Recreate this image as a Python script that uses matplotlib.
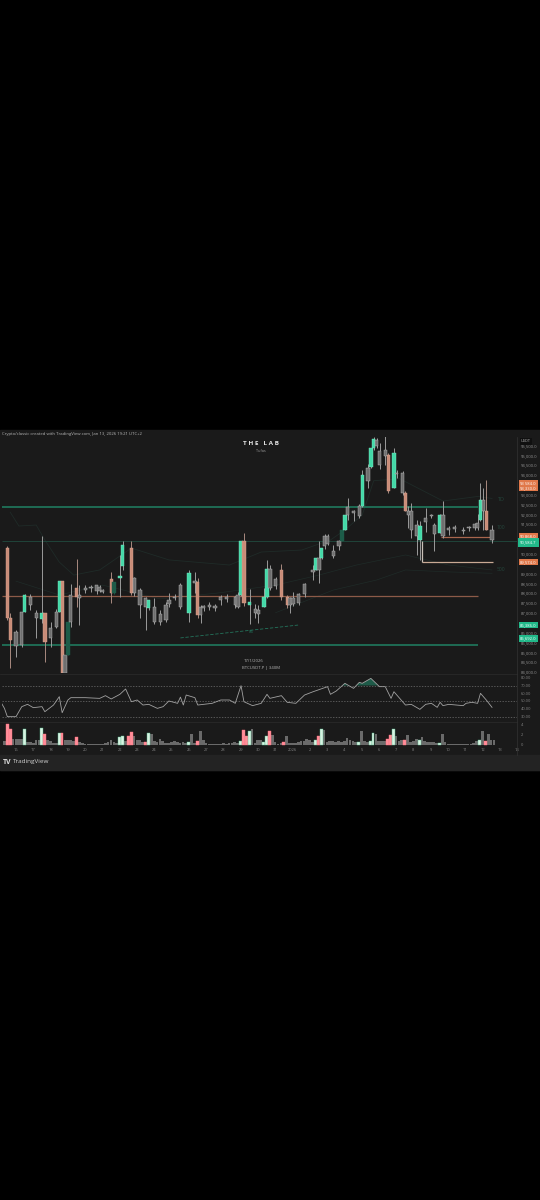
import matplotlib
matplotlib.use("Agg")
import matplotlib.pyplot as plt
from matplotlib.patches import Rectangle

plt.rcParams['font.family'] = ['Open Sans', 'DejaVu Sans']

# ---- candles (4h bars, bar 0 = 16 Dec) - only the ones you can actually see
bars = [-3, -2, 0, 2, 3, 5, 7, 9, 10, 12,
        14, 15, 16, 17, 18, 19, 21, 22, 24, 26,
        28, 29, 30, 33, 34, 36, 37, 40, 41, 43,
        45, 46, 48, 50, 52, 53, 55, 57, 60, 62,
        63, 64, 65, 67, 69, 71, 73, 76, 77, 78,
        79, 81, 83, 84, 86, 87, 88, 90, 92, 94,
        95, 96, 98, 100, 103, 104, 105, 106, 107, 108,
        110, 112, 113, 114, 115, 117, 119, 120, 122, 123,
        124, 125, 126, 128, 129, 131, 132, 134, 135, 136,
        137, 139, 140, 142, 144, 145, 147, 148, 150, 152,
        155, 157, 159, 160, 161, 162, 163, 165]
opens = [90284, 86731, 86020, 85360, 87036, 87797, 86731, 86680, 86985, 85716,
         86274, 87036, 88609, 83939, 84853, 86528, 88254, 87746, 88152, 88254,
         88102, 88305, 88051, 88711, 88000, 88761, 89371, 90284, 88000, 88152,
         87746, 87239, 87289, 86528, 86629, 87442, 87746, 87289, 86985, 88508,
         88558, 86883, 87239, 87289, 87340, 87645, 87695, 87391, 87289, 87898,
         90640, 87391, 86985, 86934, 87289, 87797, 89218, 88355, 89167, 87797,
         87391, 87442, 87492, 87949, 89066, 89167, 89777, 89777, 90386, 90893,
         90132, 90386, 90640, 91198, 91959, 92061, 91909, 92416, 93685, 94396,
         95360, 95462, 95208, 94954, 95005, 93330, 94040, 94091, 93076, 92162,
         92162, 91452, 90690, 91604, 91909, 90995, 91046, 91959, 91198, 91248,
         91198, 91299, 91299, 91299, 91705, 92721, 92162, 91198]
highs = [90386, 86985, 86122, 87036, 87949, 87949, 87137, 90893, 86985, 86528,
         87188, 88609, 88609, 84853, 86528, 88457, 89726, 88406, 88406, 88406,
         88406, 88406, 88203, 89066, 88558, 89929, 90640, 90640, 88812, 88254,
         87797, 87645, 87746, 87137, 87543, 88000, 87949, 88508, 89167, 89066,
         88761, 87391, 87391, 87543, 87442, 87898, 87949, 87848, 88051, 90640,
         91046, 88203, 87442, 87391, 88254, 89675, 89421, 88812, 89472, 87898,
         87797, 88051, 88000, 88508, 89421, 89777, 90640, 90284, 90995, 90995,
         90436, 90690, 91198, 91959, 92822, 92213, 92518, 94244, 94548, 95360,
         95919, 95868, 95614, 95970, 95106, 95360, 94244, 94193, 93178, 92416,
         92569, 91705, 91655, 92315, 92010, 91553, 92010, 92670, 91401, 91452,
         91350, 91401, 91553, 92010, 93584, 93330, 93736, 91452]
lows = [86629, 84193, 84751, 85259, 87036, 87137, 85716, 86477, 84498, 85259,
        86223, 87036, 83700, 83800, 84853, 86274, 87289, 86376, 88000, 88051,
        87949, 88051, 88000, 87492, 87949, 87797, 89167, 87898, 87848, 86731,
        86122, 87137, 86426, 86376, 86528, 87289, 87645, 87188, 86528, 88000,
        86731, 86477, 87086, 87137, 87086, 87391, 87543, 87239, 87239, 87848,
        87340, 86426, 86731, 86477, 87289, 87746, 88152, 88203, 87645, 87239,
        86985, 87340, 87391, 87797, 88660, 89167, 88508, 89726, 90234, 90436,
        89777, 90183, 90640, 91198, 91705, 91655, 91807, 92365, 93330, 94345,
        95259, 95360, 94294, 94497, 93076, 93330, 93838, 92974, 92162, 91299,
        90792, 89929, 89675, 91096, 91806, 90132, 91046, 90792, 90944, 91096,
        90995, 91147, 91198, 91198, 91655, 91198, 91198, 90538]
closes = [86731, 85614, 85309, 87036, 87898, 87391, 86985, 86985, 85513, 86223,
          87036, 88609, 83939, 84853, 86528, 87898, 87797, 87898, 88254, 88305,
          88406, 88102, 88152, 88000, 88558, 88863, 90436, 88000, 88761, 87391,
          87289, 87645, 86528, 86934, 87391, 87645, 87797, 88406, 89015, 88609,
          86883, 87289, 87340, 87391, 87239, 87797, 87797, 87797, 87898, 90640,
          87492, 87543, 87188, 87137, 87797, 89218, 88254, 88711, 87797, 87391,
          87746, 87746, 87949, 88457, 89167, 89777, 89167, 90284, 90893, 90487,
          89878, 90640, 91198, 91959, 92365, 92162, 92416, 93990, 94345, 95360,
          95817, 95767, 94497, 95259, 93178, 95106, 94091, 93076, 92162, 91959,
          91198, 90893, 91401, 91807, 91960, 91452, 91959, 90893, 91299, 91350,
          91147, 91350, 91502, 91553, 92721, 92162, 91198, 90690]
kinds = list("rrnngnngrn" "ngrndnrnnn" "nnnrdggrnn" "ngnnnnnngn" "rnnnnnnnng"
             "rgnnggnnrr" "nnnnngngnn" "nndgnnngng" "gnnnrgnnrn" "nngnnngnnn"
             "nnnngnrn")

# faint band lines on the price pane
band_up_bars = [-2, 1, 7, 10, 15, 20, 29, 40, 53, 74, 85, 99, 109, 114, 120, 124, 133, 148, 160, 165]
band_up_vals = [92100, 91400, 91450, 90690, 89570, 88910, 89170, 90280, 89680, 89420,
                90080, 90180, 90690, 91200, 91960, 93700, 93800, 92670, 92900, 92800]
band_mid_bars = [0, 15, 30, 50, 70, 90, 105, 118, 135, 150, 165]
band_mid_vals = [88600, 87900, 88400, 87700, 88000, 88400, 88910, 89420, 89930, 89420, 89170]
band_low_bars = [90, 110, 125, 135, 150, 165]
band_low_vals = [87000, 88150, 88660, 89170, 89070, 89000]

# levels: price, first bar, last bar
level_green_top = 92365
level_green_mid = 90665
level_red = 87873
level_green_low = 85370
level_short = 90868
level_box = 89573
level_box_top = 90640
level_end_bar = 160.1
level_short_start = 147.3
level_box_start = 140.7
level_box_end = 165.3
trend_bars = [57, 98]
trend_vals = [85720, 86376]

price_ticks = [95500, 95000, 94500, 94000, 93000, 92500, 92000, 91500, 90000, 89000, 88500, 88000,
               87500, 87000, 86500, 86000, 85500, 85000, 84500, 84000]
tag_vals = [93584, 93330, 90868, 89574, 86386, 85692]
tag_cols = ['#e0784a', '#e0784a', '#e0784a', '#e0784a', '#22b98a', '#22b98a']

# rsi
rsi_bars = [-5, -4, -3, 0, 2, 4, 6, 9, 10, 13, 15, 16, 18, 19, 24, 29, 31, 33, 36, 38, 40, 42, 44, 46, 49,
            51, 53, 56, 57, 58, 59, 62, 63, 68, 71, 74, 76, 78, 79, 82, 85, 87, 88, 92, 94, 97, 100,
            103, 108, 109, 111, 114, 117, 119, 120, 123, 126, 128, 130, 131, 133, 135, 137, 140, 142,
            144, 146, 147, 148, 150, 155, 156, 158, 160, 161, 163, 165]
rsi_vals = [47, 40.5, 29.8, 29.8, 42.7, 45.7, 41.4, 42.7, 36.2, 44.8, 55.6, 34.9, 51.3, 54.3, 54.3, 53.4,
            56.9, 52.6, 58.6, 65.5, 49.1, 51.3, 44.8, 45.7, 40.5,
            42.7, 50, 47, 55, 44.8, 57.7, 54.3, 44.8, 47, 51.3, 51.3, 47, 69.8, 49.1, 44, 47, 58.6, 53.4,
            56.9, 48.3, 47, 57.7,
            62, 68.5, 58.6, 62.9, 72.8, 66.3, 74.1, 72.8, 79.2, 68.5, 68.5, 53.4, 62, 53.4, 44.8, 45.7,
            39.2, 45.7,
            47, 41.8, 48.3, 44, 45.7, 44, 47, 48.3, 47, 59.9, 51.3, 41.8]
rsi_ticks = [80, 70, 60, 50, 40, 30]
rsi_dash = [70, 50, 30]

# volume from bar -4 to 165
vol_start = -4
volumes = [0.7, 4.0, 3.1, 1.2, 1.1, 1.1, 1.1, 3.1, 0.6, 0.5,
           0.4, 0.9, 1.0, 3.2, 2.1, 1.0, 0.7, 0.3, 0.3, 2.3,
           2.3, 1.0, 1.0, 0.9, 0.8, 1.6, 0.5, 0.3, 0.2, 0.2,
           0.1, 0.1, 0.1, 0.1, 0.1, 0.3, 0.6, 0.9, 0.5, 0.4,
           1.6, 1.7, 0.7, 1.7, 2.5, 1.7, 0.9, 0.9, 0.5, 0.5,
           2.3, 2.1, 0.8, 0.5, 1.2, 0.7, 0.4, 0.3, 0.5, 0.8,
           0.5, 0.3, 0.5, 0.4, 0.6, 2.1, 0.4, 0.8, 2.6, 0.9,
           0.4, 0.2, 0.2, 0.2, 0.1, 0.2, 0.4, 0.2, 0.3, 0.3,
           0.5, 0.4, 0.8, 2.9, 1.8, 2.7, 3.1, 0.3, 1.0, 0.9,
           0.5, 1.7, 2.7, 1.9, 0.6, 0.2, 0.3, 0.5, 1.7, 0.3,
           0.3, 0.3, 0.5, 0.8, 0.8, 1.1, 1.0, 0.6, 0.9, 1.7,
           3.0, 2.8, 0.5, 0.7, 0.7, 0.6, 0.8, 0.5, 0.8, 1.3,
           0.9, 0.7, 0.5, 0.5, 2.6, 0.8, 0.5, 0.8, 2.3, 2.1,
           0.8, 0.8, 0.8, 1.2, 1.9, 3.1, 1.7, 0.7, 0.9, 1.0,
           1.9, 0.6, 0.7, 1.2, 1.0, 1.6, 0.7, 0.6, 0.6, 0.6,
           0.3, 0.3, 2.1, 0.6, 0.2, 0.1, 0.1, 0.2, 0.1, 0.2,
           0.1, 0.1, 0.1, 0.3, 0.8, 1.0, 2.6, 0.8, 2.1, 1.0, 0.9]
vol_green = [3, 9, 15, 36, 37, 46, 60, 78, 81, 86, 87, 104, 106, 119, 123, 124, 131, 140, 147, 161]
vol_red = [-3, -2, 10, 16, 21, 39, 40, 45, 63, 79, 80, 88, 93, 105, 129, 130, 135, 163]

# axis labels
day_labels = ["16", "17", "18", "19", "20", "21", "22", "23", "24", "25", "26", "27", "28", "29", "30",
              "31", "2026", "2", "3", "4", "5", "6", "7", "8", "9", "10", "11", "12", "13", "14"]
title_text = "Crypto/classic created with TradingView.com, Jan 13, 2026 19:21 UTC+2"

W, H = 540, 1200
BAR_PX = 2.885
BG = '#1a1a1a'


def px_axes(x0, y0, x1, y1):
    a = fig.add_axes([x0 / W, 1 - y1 / H, (x1 - x0) / W, (y1 - y0) / H])
    a.set_facecolor('none')
    for s in a.spines.values():
        s.set_visible(False)
    a.set_xlim((x0 - 16) / BAR_PX, (x1 - 16) / BAR_PX)
    return a


def fx(x):
    return x / W


def fy(y):
    return 1 - y / H


fig = plt.figure(figsize=(W / 100, H / 100), dpi=100, facecolor='black')
fig.patches.append(Rectangle((0, fy(770)), 1, 340 / H, transform=fig.transFigure, color=BG, zorder=-5))
fig.patches.append(Rectangle((0, fy(770)), 1, 15 / H, transform=fig.transFigure, color='#232323', zorder=-4))

# price pane
ax = px_axes(2, 437, 517, 673)
ax.set_ylim(83939, 95919)
ax.yaxis.tick_right()
ax.set_yticks(price_ticks)
ax.set_yticklabels([f"{p:,.1f}" for p in price_ticks])
ax.tick_params(axis='y', length=0, labelsize=3.0, labelcolor='#949494', pad=3)
ax.set_xticks([])

ax.plot(band_up_bars, band_up_vals, color='#1f2b28', lw=0.6)
ax.plot(band_mid_bars, band_mid_vals, color='#1f2b28', lw=0.5)
ax.plot(band_low_bars, band_low_vals, color='#1f2b28', lw=0.5)

ax.hlines(level_green_top, ax.get_xlim()[0], level_end_bar, color='#1f7a5e', lw=1.2)
ax.hlines(level_green_mid, ax.get_xlim()[0], ax.get_xlim()[1], color='#214a3e', lw=0.6)
ax.hlines(level_red, ax.get_xlim()[0], level_end_bar, color='#8c5a48', lw=0.9)
ax.hlines(level_green_low, ax.get_xlim()[0], level_end_bar, color='#1f7a5e', lw=1.2)
ax.hlines(level_short, level_short_start, level_box_end, color='#a8664e', lw=0.9)
ax.hlines(level_box, level_box_start, level_box_end, color='#c9a994', lw=0.9)
ax.vlines(level_box_start, level_box, level_box_top, color='#c9c0b8', lw=0.9)
ax.plot(trend_bars, trend_vals, color='#24745c', lw=0.6, ls=(0, (4, 2)))

body_col = {'g': '#43d9a8', 'r': '#c98c78', 'd': '#1d5c49', 'n': '#6f6f6f'}
edge_col = {'g': '#7fe8c4', 'r': '#d8a593', 'd': '#1d5c49', 'n': '#bdbdbd'}
wick_col = {'g': '#9a9a9a', 'r': '#a98a80', 'd': '#1d5c49', 'n': '#9c9c9c'}
for b, o, h, l, c, k in zip(bars, opens, highs, lows, closes, kinds):
    ax.vlines(b, l, h, color=wick_col[k], lw=0.7, zorder=3)
    ax.bar(b, abs(c - o), bottom=min(o, c), width=1.15, color=body_col[k], edgecolor=edge_col[k], lw=0.3, zorder=4)

ax.text(81.5, 86010, "85", color='#24745c', fontsize=3.2, ha='center', va='center')
ax.text(168.2, 92760, "TD", color='#24453b', fontsize=4, ha='center', va='center')
ax.text(168.2, 91350, "100", color='#24453b', fontsize=3.6, ha='center', va='center')
ax.text(168.2, 89170, "500", color='#24453b', fontsize=3.6, ha='center', va='center')

for val, col in zip(tag_vals, tag_cols):
    fig.text(fx(520), fy(593 - (val - 88000) / 50.76), f"{val:,.1f}", fontsize=3.0, color='white', va='center', ha='left',
             bbox=dict(boxstyle='square,pad=0.3', fc=col, ec='none'), zorder=10)
fig.text(fx(520), fy(542), "90,584.7", fontsize=3.0, color='white', va='center', ha='left',
         bbox=dict(boxstyle='square,pad=0.6', fc='#22b98a', ec='none'), zorder=10)
fig.text(fx(521), fy(441.5), "USDT", fontsize=2.8, color='#b8b8b8', va='center', ha='left',
         bbox=dict(boxstyle='square,pad=0.3', fc='#101010', ec='none'), zorder=10)

# rsi pane
ax2 = px_axes(2, 675, 517, 722)
ax2.set_ylim(50 + (701 - 722) / 0.775, 50 + (701 - 675) / 0.775)
ax2.yaxis.tick_right()
ax2.set_yticks(rsi_ticks)
ax2.set_yticklabels([f"{r:.2f}" for r in rsi_ticks])
ax2.tick_params(axis='y', length=0, labelsize=2.9, labelcolor='#858585', pad=3)
ax2.set_xticks([])
for r in rsi_dash:
    ax2.axhline(r, color='#6f6f6f', lw=0.5, ls=(0, (2, 2)))
ax2.fill_between(rsi_bars, 70, rsi_vals, where=[v >= 70 for v in rsi_vals], interpolate=True, color='#1e5a48', lw=0)
ax2.plot(rsi_bars, rsi_vals, color='#a2a2a2', lw=0.6)

# volume pane
ax3 = px_axes(2, 722, 517, 747)
ax3.set_ylim(-2 / 5.25, 25 / 5.25 - 2 / 5.25)
ax3.yaxis.tick_right()
ax3.set_yticks([4, 2, 0])
ax3.tick_params(axis='y', length=0, labelsize=2.9, labelcolor='#858585', pad=3)
day_bars = [i * 6 for i in range(len(day_labels))]
ax3.set_xticks(day_bars)
ax3.set_xticklabels(day_labels)
ax3.tick_params(axis='x', length=0, labelsize=2.9, labelcolor='#858585', pad=1)
for i, v in enumerate(volumes):
    b = vol_start + i
    if b in vol_red:
        ax3.bar(b, v, width=1.0, color='#ff8f9a', edgecolor='#ff6f7e', lw=0.3, zorder=3)
    elif b in vol_green:
        ax3.bar(b, v, width=1.0, color='#d8f3e2', edgecolor='#57b98f', lw=0.3, zorder=3)
    else:
        ax3.bar(b, v, width=0.95, color='#6a6a6a', lw=0)

# pane separators
for yy in [674, 722]:
    fig.add_artist(plt.Line2D([0, 517 / W], [fy(yy), fy(yy)], color='#2c2c2c', lw=0.5))
fig.add_artist(plt.Line2D([517 / W, 517 / W], [fy(755), fy(437)], color='#333333', lw=0.5))

# texts
fig.text(fx(2), fy(433.5), title_text, fontsize=3.1, color='#b5b5b5', va='center', ha='left')
fig.text(fx(261), fy(443.5), "T H E   L A B", fontsize=4.6, color='#e6e6e6', va='center', ha='center', fontweight='bold')
fig.text(fx(261), fy(451), "Tufas", fontsize=2.8, color='#999999', va='center', ha='center')
fig.text(fx(254), fy(661), "17/1/2026", fontsize=3.1, color='#b5b5b5', va='center', ha='center')
fig.text(fx(261), fy(668), "BTCUSDT.P | 340M", fontsize=3.1, color='#b5b5b5', va='center', ha='center')
fig.text(fx(3), fy(762), "TV", fontsize=5, color='#dddddd', va='center', ha='left', fontweight='bold')
fig.text(fx(13), fy(762), "TradingView", fontsize=4.6, color='#cfcfcf', va='center', ha='left')

fig.savefig("out.png", dpi=100, facecolor='black')
